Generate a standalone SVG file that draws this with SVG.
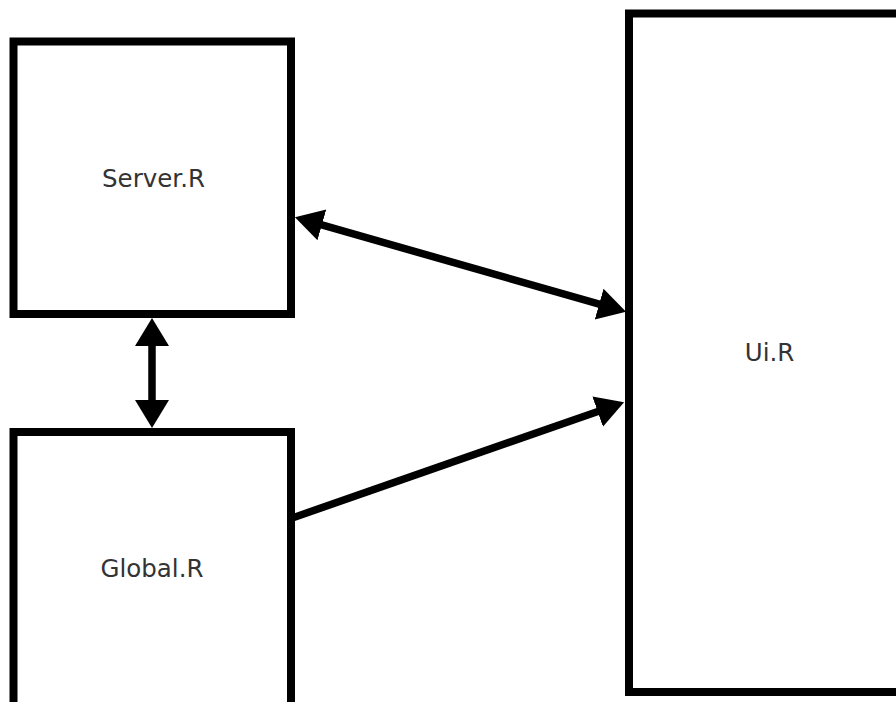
<svg xmlns="http://www.w3.org/2000/svg" width="896" height="702" viewBox="0 0 896 702">
  <style>
    .box { fill: #ffffff; stroke: #000000; stroke-width: 8; }
    .label { font-family: "DejaVu Sans", "Liberation Sans", sans-serif; font-size: 24.5px; fill: #333333; text-anchor: middle; }
    .link { fill: none; stroke: #000000; stroke-width: 7.5; }
  </style>
  <defs>
    <marker id="head" markerUnits="userSpaceOnUse" markerWidth="30" markerHeight="36" viewBox="0 -18 30 36" refX="1" refY="0" orient="auto-start-reverse">
      <path d="M0,-16 L28,0 L0,16 Z" fill="#000000"/>
    </marker>
    <marker id="headV" markerUnits="userSpaceOnUse" markerWidth="30" markerHeight="36" viewBox="0 -18 30 36" refX="1" refY="0" orient="auto-start-reverse">
      <path d="M0,-17 L28,0 L0,17 Z" fill="#000000"/>
    </marker>
  </defs>
  <rect width="896" height="702" fill="#ffffff"/>

  <g id="server">
    <rect class="box" x="13.5" y="41.5" width="277.5" height="272.5"/>
    <text class="label" x="153.5" y="186.5">Server.R</text>
  </g>

  <g id="global">
    <rect class="box" x="13.5" y="432" width="277.5" height="285"/>
    <text class="label" x="152" y="577">Global.R</text>
  </g>

  <g id="ui">
    <rect class="box" x="629" y="13.5" width="290" height="678.5"/>
    <text class="label" x="769.5" y="361">Ui.R</text>
  </g>

  <g id="connectors">
    <!-- Server.R <-> Ui.R -->
    <line class="link" x1="320.9" y1="224.7" x2="600.1" y2="304.3" marker-start="url(#head)" marker-end="url(#head)"/>
    <!-- Server.R <-> Global.R -->
    <line class="link" x1="152" y1="345" x2="152" y2="401" marker-start="url(#headV)" marker-end="url(#headV)"/>
    <!-- Global.R -> Ui.R -->
    <line class="link" x1="293" y1="517.7" x2="598.6" y2="411.2" marker-end="url(#head)"/>
  </g>
</svg>
